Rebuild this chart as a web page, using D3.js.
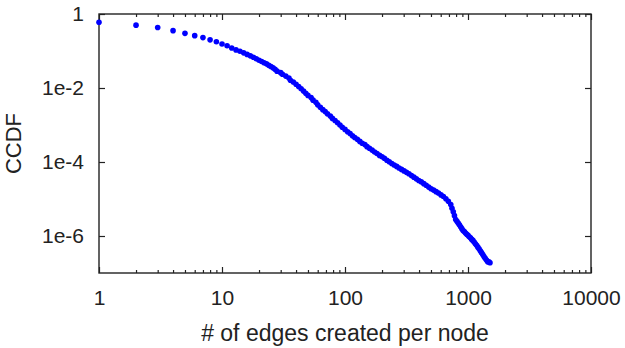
<!DOCTYPE html>
<html>
<head>
<meta charset="utf-8">
<script src="https://cdn.jsdelivr.net/npm/d3@7"></script>
<style>
  body { margin: 0; background: #fff; }
  svg { display: block; font-family: "Liberation Sans", Arial, Helvetica, sans-serif; }
  .axis path { display: none; }
  .axis line { stroke: #222; stroke-width: 1.2; }
  .axis text { font-size: 21px; fill: #222; }
</style>
</head>
<body>
<div id="chart"></div>
<script>
// edges created per node (x) and CCDF (y)
var edges = [1, 2, 3, 4, 5, 6, 7, 8, 9, 10, 11, 12, 13, 14, 15, 16, 17, 18, 19, 20,
  21, 22, 23, 24, 25, 26, 27, 28, 30, 31, 33, 35, 36, 38, 40, 42, 44, 46, 48, 50,
  53, 55, 58, 60, 63, 66, 69, 72, 76, 79, 83, 87, 91, 95, 100, 105, 110, 115, 120, 126,
  132, 138, 145, 151, 158, 166, 174, 182, 191, 200, 209, 219, 229, 240, 251, 263, 275, 288, 302, 316,
  331, 347, 363, 380, 398, 417, 437, 457, 479, 501, 525, 550, 575, 603, 631, 661, 692, 724, 741, 759,
  776, 794, 813, 832, 851, 871, 891, 912, 933, 955, 977, 1000, 1023, 1047, 1072, 1096, 1122, 1148, 1175, 1202,
  1230, 1259, 1288, 1318, 1349, 1380, 1413, 1445, 1480, 1510];

var ccdf = [0.60, 0.50, 0.43, 0.355, 0.30, 0.26, 0.23, 0.20, 0.178, 0.155, 0.138, 0.120, 0.107, 0.098, 0.089, 0.081, 0.074, 0.068, 0.062, 0.056,
  5.2e-2, 4.8e-2, 4.5e-2, 4.1e-2, 3.8e-2, 3.5e-2, 3.2e-2, 2.85e-2, 2.6e-2, 2.35e-2, 2.1e-2, 1.86e-2, 1.62e-2, 1.45e-2, 1.26e-2, 1.1e-2, 9.5e-3, 8.3e-3, 7.2e-3, 6.3e-3,
  5.5e-3, 4.7e-3, 4.1e-3, 3.5e-3, 3.0e-3, 2.6e-3, 2.3e-3, 2.0e-3, 1.74e-3, 1.51e-3, 1.32e-3, 1.15e-3, 1.0e-3, 8.7e-4, 7.6e-4, 6.6e-4, 5.9e-4, 5.1e-4, 4.6e-4, 4.1e-4,
  3.6e-4, 3.2e-4, 2.95e-4, 2.6e-4, 2.35e-4, 2.1e-4, 1.86e-4, 1.7e-4, 1.51e-4, 1.38e-4, 1.26e-4, 1.12e-4, 1.02e-4, 9.1e-5, 8.3e-5, 7.6e-5, 6.9e-5, 6.3e-5, 5.75e-5, 5.25e-5,
  4.8e-5, 4.3e-5, 3.9e-5, 3.5e-5, 3.16e-5, 2.9e-5, 2.6e-5, 2.35e-5, 2.1e-5, 1.9e-5, 1.74e-5, 1.58e-5, 1.45e-5, 1.29e-5, 1.17e-5, 1.02e-5, 8.7e-6, 7.1e-6, 5.6e-6, 4.5e-6,
  3.55e-6, 2.8e-6, 2.5e-6, 2.24e-6, 2.0e-6, 1.78e-6, 1.58e-6, 1.41e-6, 1.32e-6, 1.2e-6, 1.12e-6, 1.05e-6, 9.5e-7, 8.9e-7, 8.1e-7, 7.6e-7, 6.9e-7, 6.2e-7, 5.6e-7, 5.0e-7,
  4.5e-7, 4.0e-7, 3.55e-7, 3.16e-7, 2.8e-7, 2.5e-7, 2.24e-7, 2.0e-7, 2.0e-7, 1.9e-7];

var xTicks = [1, 10, 100, 1000, 10000];
var xTickLabels = ["1", "10", "100", "1000", "10000"];
var yTicks = [1, 1e-2, 1e-4, 1e-6];
var yTickLabels = ["1", "1e-2", "1e-4", "1e-6"];

var margin = { top: 14, right: 34, bottom: 75, left: 99 },
    width = 625 - margin.left - margin.right,
    height = 348 - margin.top - margin.bottom;

var x = d3.scaleLog().domain([1, 10000]).range([0, width]);
var y = d3.scaleLog().domain([1e-7, 1]).range([height, 0]);

// minor ticks 2..9 in every decade
var xMinor = [];
xTicks.slice(0, -1).forEach(function (d) {
  for (var k = 2; k < 10; k++) xMinor.push(d * k);
});

var svg = d3.select("#chart").append("svg")
    .attr("width", 625)
    .attr("height", 348)
  .append("g")
    .attr("transform", "translate(" + margin.left + "," + margin.top + ")");

svg.append("g")
    .attr("class", "axis")
    .attr("transform", "translate(0," + height + ")")
    .call(d3.axisBottom(x).tickValues(xTicks).tickSize(-6).tickPadding(17)
      .tickFormat(function (d, i) { return xTickLabels[i]; }));

svg.append("g")
    .attr("class", "axis")
    .attr("transform", "translate(0," + height + ")")
    .call(d3.axisBottom(x).tickValues(xMinor).tickSize(-3).tickFormat(""));

svg.append("g")
    .attr("class", "axis")
    .call(d3.axisTop(x).tickValues(xTicks).tickSize(-6).tickFormat(""));

svg.append("g")
    .attr("class", "axis")
    .call(d3.axisTop(x).tickValues(xMinor).tickSize(-3).tickFormat(""));

svg.append("g")
    .attr("class", "axis")
    .call(d3.axisLeft(y).tickValues(yTicks).tickSize(-6).tickPadding(15)
      .tickFormat(function (d, i) { return yTickLabels[i]; }));

svg.append("g")
    .attr("class", "axis")
    .attr("transform", "translate(" + width + ",0)")
    .call(d3.axisRight(y).tickValues(yTicks).tickSize(-6).tickFormat(""));

svg.append("rect")
    .attr("width", width)
    .attr("height", height)
    .attr("fill", "none")
    .attr("stroke", "#222")
    .attr("stroke-width", 1.4);

svg.append("text")
    .attr("x", width / 2)
    .attr("y", 327)
    .attr("text-anchor", "middle")
    .style("font-size", "23px")
    .style("fill", "#222")
    .text("# of edges created per node");

svg.append("text")
    .attr("transform", "translate(" + (21 - margin.left) + "," + (height / 2) + ") rotate(-90)")
    .attr("text-anchor", "middle")
    .style("font-size", "22px")
    .style("fill", "#222")
    .text("CCDF");

svg.selectAll(".dot")
    .data(edges)
    .enter()
    .append("circle")
    .attr("class", "dot")
    .attr("cx", function (d) { return x(d); })
    .attr("cy", function (d, i) { return y(ccdf[i]); })
    .attr("r", 2.8)
    .attr("fill", "#0000ff");
</script>
</body>
</html>
